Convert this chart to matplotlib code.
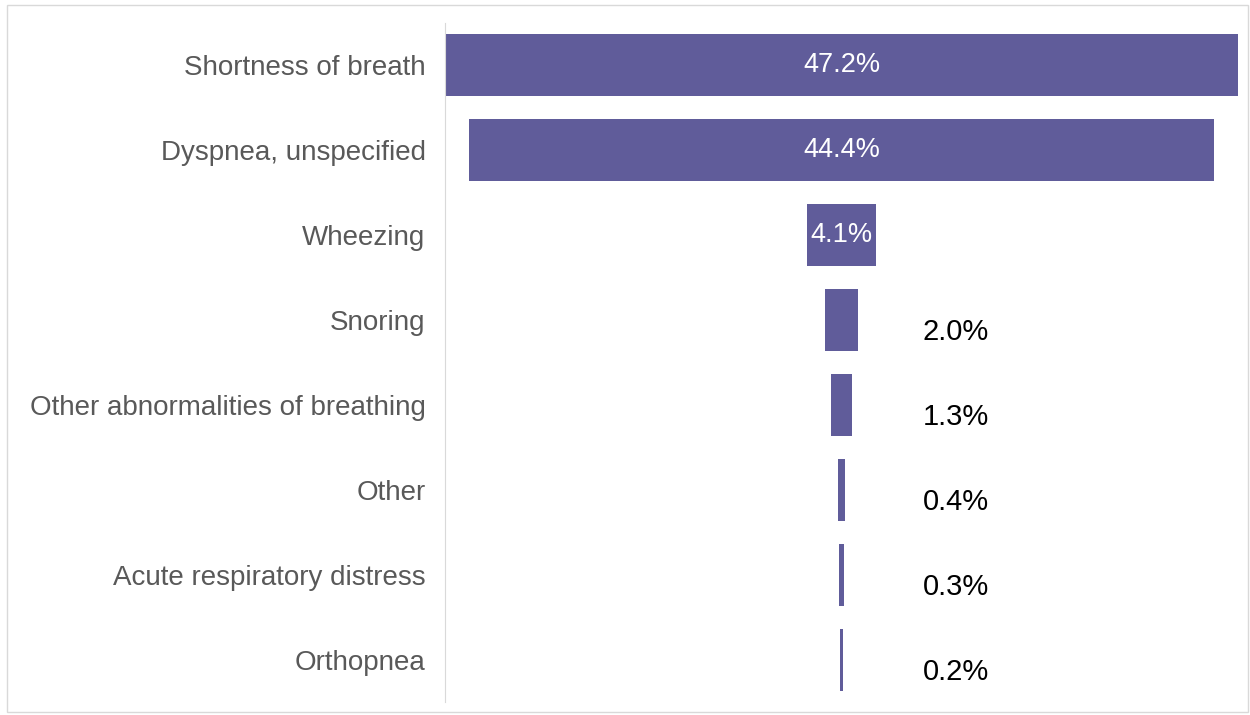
import matplotlib.pyplot as plt
from matplotlib.patches import Rectangle

# Dados do funil
categorias = [
    "Shortness of breath",
    "Dyspnea, unspecified",
    "Wheezing",
    "Snoring",
    "Other abnormalities of breathing",
    "Other",
    "Acute respiratory distress",
    "Orthopnea",
]
valores = [47.2, 44.4, 4.1, 2.0, 1.3, 0.4, 0.3, 0.2]
rotulos = ["47.2%", "44.4%", "4.1%", "2.0%", "1.3%", "0.4%", "0.3%", "0.2%"]

cor_barra = "#605c9a"
plt.rcParams["font.family"] = ["Liberation Sans", "DejaVu Sans"]

fig = plt.figure(figsize=(12.5, 7.15), dpi=100)
ax = fig.add_axes([0.356, 0.0175, 0.6344, 0.951])

y = list(range(len(categorias)))
lefts = [-v / 2 for v in valores]

ax.barh(y, valores, left=lefts, height=0.73, color=cor_barra)

# rotulos dos valores
for i, v in enumerate(valores):
    if v > 3:
        ax.text(0, i, rotulos[i], ha="center", va="center",
                color="white", fontsize=19.5)
    else:
        ax.text(6.8, i + 0.14, rotulos[i], ha="center", va="center",
                color="black", fontsize=21)

ax.set_xlim(-max(valores) / 2, max(valores) / 2)
ax.set_ylim(len(categorias) - 0.5, -0.5)
ax.set_yticks(y)
ax.set_yticklabels(categorias, fontsize=20, color="#595959")
ax.tick_params(axis="y", length=0, pad=14)
ax.set_xticks([])

for lado in ["top", "right", "bottom"]:
    ax.spines[lado].set_visible(False)
ax.spines["left"].set_color("#d9d9d9")

# borda do grafico
fig.patches.append(Rectangle((7 / 1250, 3 / 715), 1241 / 1250, 707 / 715,
                             transform=fig.transFigure, fill=False,
                             edgecolor="#d9d9d9", linewidth=1))

fig.savefig("out.png", dpi=100)
